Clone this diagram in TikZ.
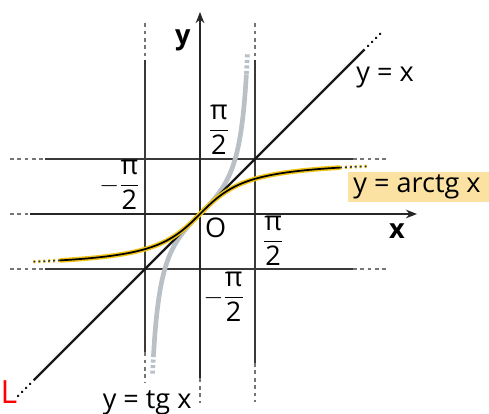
\documentclass[tikz,border=0pt]{standalone}
\usepackage{amsmath}
\usepackage{fontspec}
\setmainfont{Open Sans}
\usetikzlibrary{arrows.meta}

\definecolor{gridgray}{HTML}{3A3A3A}
\definecolor{tangray}{HTML}{B9C0C6}
\definecolor{atgyellow}{HTML}{F0C418}
\definecolor{labelyellow}{HTML}{FBE2A2}

\newcommand{\halfpi}{\dfrac{\mbox{π}}{\mbox{2}}}

\begin{document}
\begin{tikzpicture}[>={Stealth[length=9pt,width=7pt]}, x=1cm, y=1cm,
  font=\fontsize{22}{24}\selectfont,
  gridline/.style={gridgray, line width=1.1pt},
  gridend/.style={gridgray!70, line width=1pt, dash pattern=on 3pt off 3pt},
  axis/.style={black!85, line width=1.5pt},
  tancurve/.style={tangray, line width=3.8pt},
  tanend/.style={tangray, line width=3.8pt, dash pattern=on 2.5pt off 2pt},
  diagline/.style={black!90, line width=1.8pt},
  diagend/.style={black!90, line width=2.2pt, dash pattern=on 0.1pt off 4.5pt, line cap=round},
  atgunder/.style={atgyellow, line width=3.8pt},
  atgline/.style={black, line width=1.4pt}]

\useasboundingbox (-5.714,-5.714) rectangle (8.257,6.114);

% --- lines x = +-pi/2 and y = +-pi/2 ---
\draw[gridline] (-1.5708,4.4) -- (-1.5708,-3.95);
\draw[gridend] (-1.5708,5.45) -- (-1.5708,4.4);
\draw[gridend] (-1.5708,-3.95) -- (-1.5708,-4.8);
\draw[gridline] (1.5708,4.4) -- (1.5708,-4.26);
\draw[gridend] (1.5708,5.45) -- (1.5708,4.4);
\draw[gridend] (1.5708,-4.26) -- (1.5708,-5.37);
\draw[gridline] (-4.43,1.5708) -- (4.37,1.5708);
\draw[gridend] (-5.43,1.5708) -- (-4.43,1.5708);
\draw[gridend] (4.37,1.5708) -- (5.37,1.5708);
\draw[gridline] (-4.43,-1.5708) -- (4.37,-1.5708);
\draw[gridend] (-5.43,-1.5708) -- (-4.43,-1.5708);
\draw[gridend] (4.37,-1.5708) -- (5.37,-1.5708);

% --- y = tg x ---
\draw[tancurve] plot[domain=-1.3258:1.3258, samples=90, smooth] (\x,{tan(\x r)});
\draw[tanend] plot[domain=1.3258:1.3570, samples=6] (\x,{tan(\x r)});
\draw[tanend] plot[domain=-1.3258:-1.3570, samples=6] (\x,{tan(\x r)});

% --- axes ---
\draw[axis, ->] (-4.86,0) -- (6.2,0);
\draw[gridend] (-5.43,0) -- (-4.86,0);
\draw[axis, ->] (0,-4.7) -- (0,5.77);
\draw[gridend] (0,-4.7) -- (0,-5.4);

% --- y = x ---
\draw[diagline] (-4.75,-4.75) -- (4.7,4.7);
\draw[diagend] (-4.85,-4.85) -- (-5.2,-5.2);
\draw[diagend] (4.8,4.8) -- (5.15,5.15);

% --- y = arctg x ---
\draw[atgunder] plot[domain=-4:4, samples=80, smooth] (\x,{rad(atan(\x))});
\draw[atgline] plot[domain=-4:4, samples=80, smooth] (\x,{rad(atan(\x))});
\draw[atgyellow, line width=2.8pt, dash pattern=on 1.6pt off 2.4pt]
  plot[domain=4:4.8, samples=5] (\x,{rad(atan(\x))});
\draw[black!80, line width=1.2pt, dash pattern=on 1.6pt off 2.4pt]
  plot[domain=4:4.8, samples=5] (\x,{rad(atan(\x))});
\draw[atgyellow, line width=2.8pt, dash pattern=on 1.6pt off 2.4pt]
  plot[domain=-4:-4.8, samples=5] (\x,{rad(atan(\x))});
\draw[black!80, line width=1.2pt, dash pattern=on 1.6pt off 2.4pt]
  plot[domain=-4:-4.8, samples=5] (\x,{rad(atan(\x))});

% --- labels ---
\node[font=\fontsize{22}{24}\selectfont\bfseries] (ylab) at (-0.49,4.97) {y};
\node[font=\fontsize{22}{24}\selectfont\bfseries] (xlab) at (5.63,-0.5) {x};
\node (olab) at (0.45,-0.4) {O};
\node (ypi) at (0.54,2.4) {$\halfpi$};
\node (xmpi) at (-2.3,0.83) {$-\halfpi$};
\node (xpi) at (2.09,-0.77) {$\halfpi$};
\node (ympi) at (0.68,-2.37) {$-\halfpi$};
\node (idlab) at (5.29,3.89) {y = x};
\fill[labelyellow] (4.23,0.34) rectangle (8.257,1.2);
\node[anchor=west] (atglab) at (4.26,0.77) {y = arctg x};
\node (tglab) at (-1.51,-5.4) {y = tg x};
\node[red, anchor=west, inner sep=0pt, font=\fontsize{26}{28}\selectfont] (mark) at (-5.70,-5.1) {L};

\end{tikzpicture}
\end{document}
